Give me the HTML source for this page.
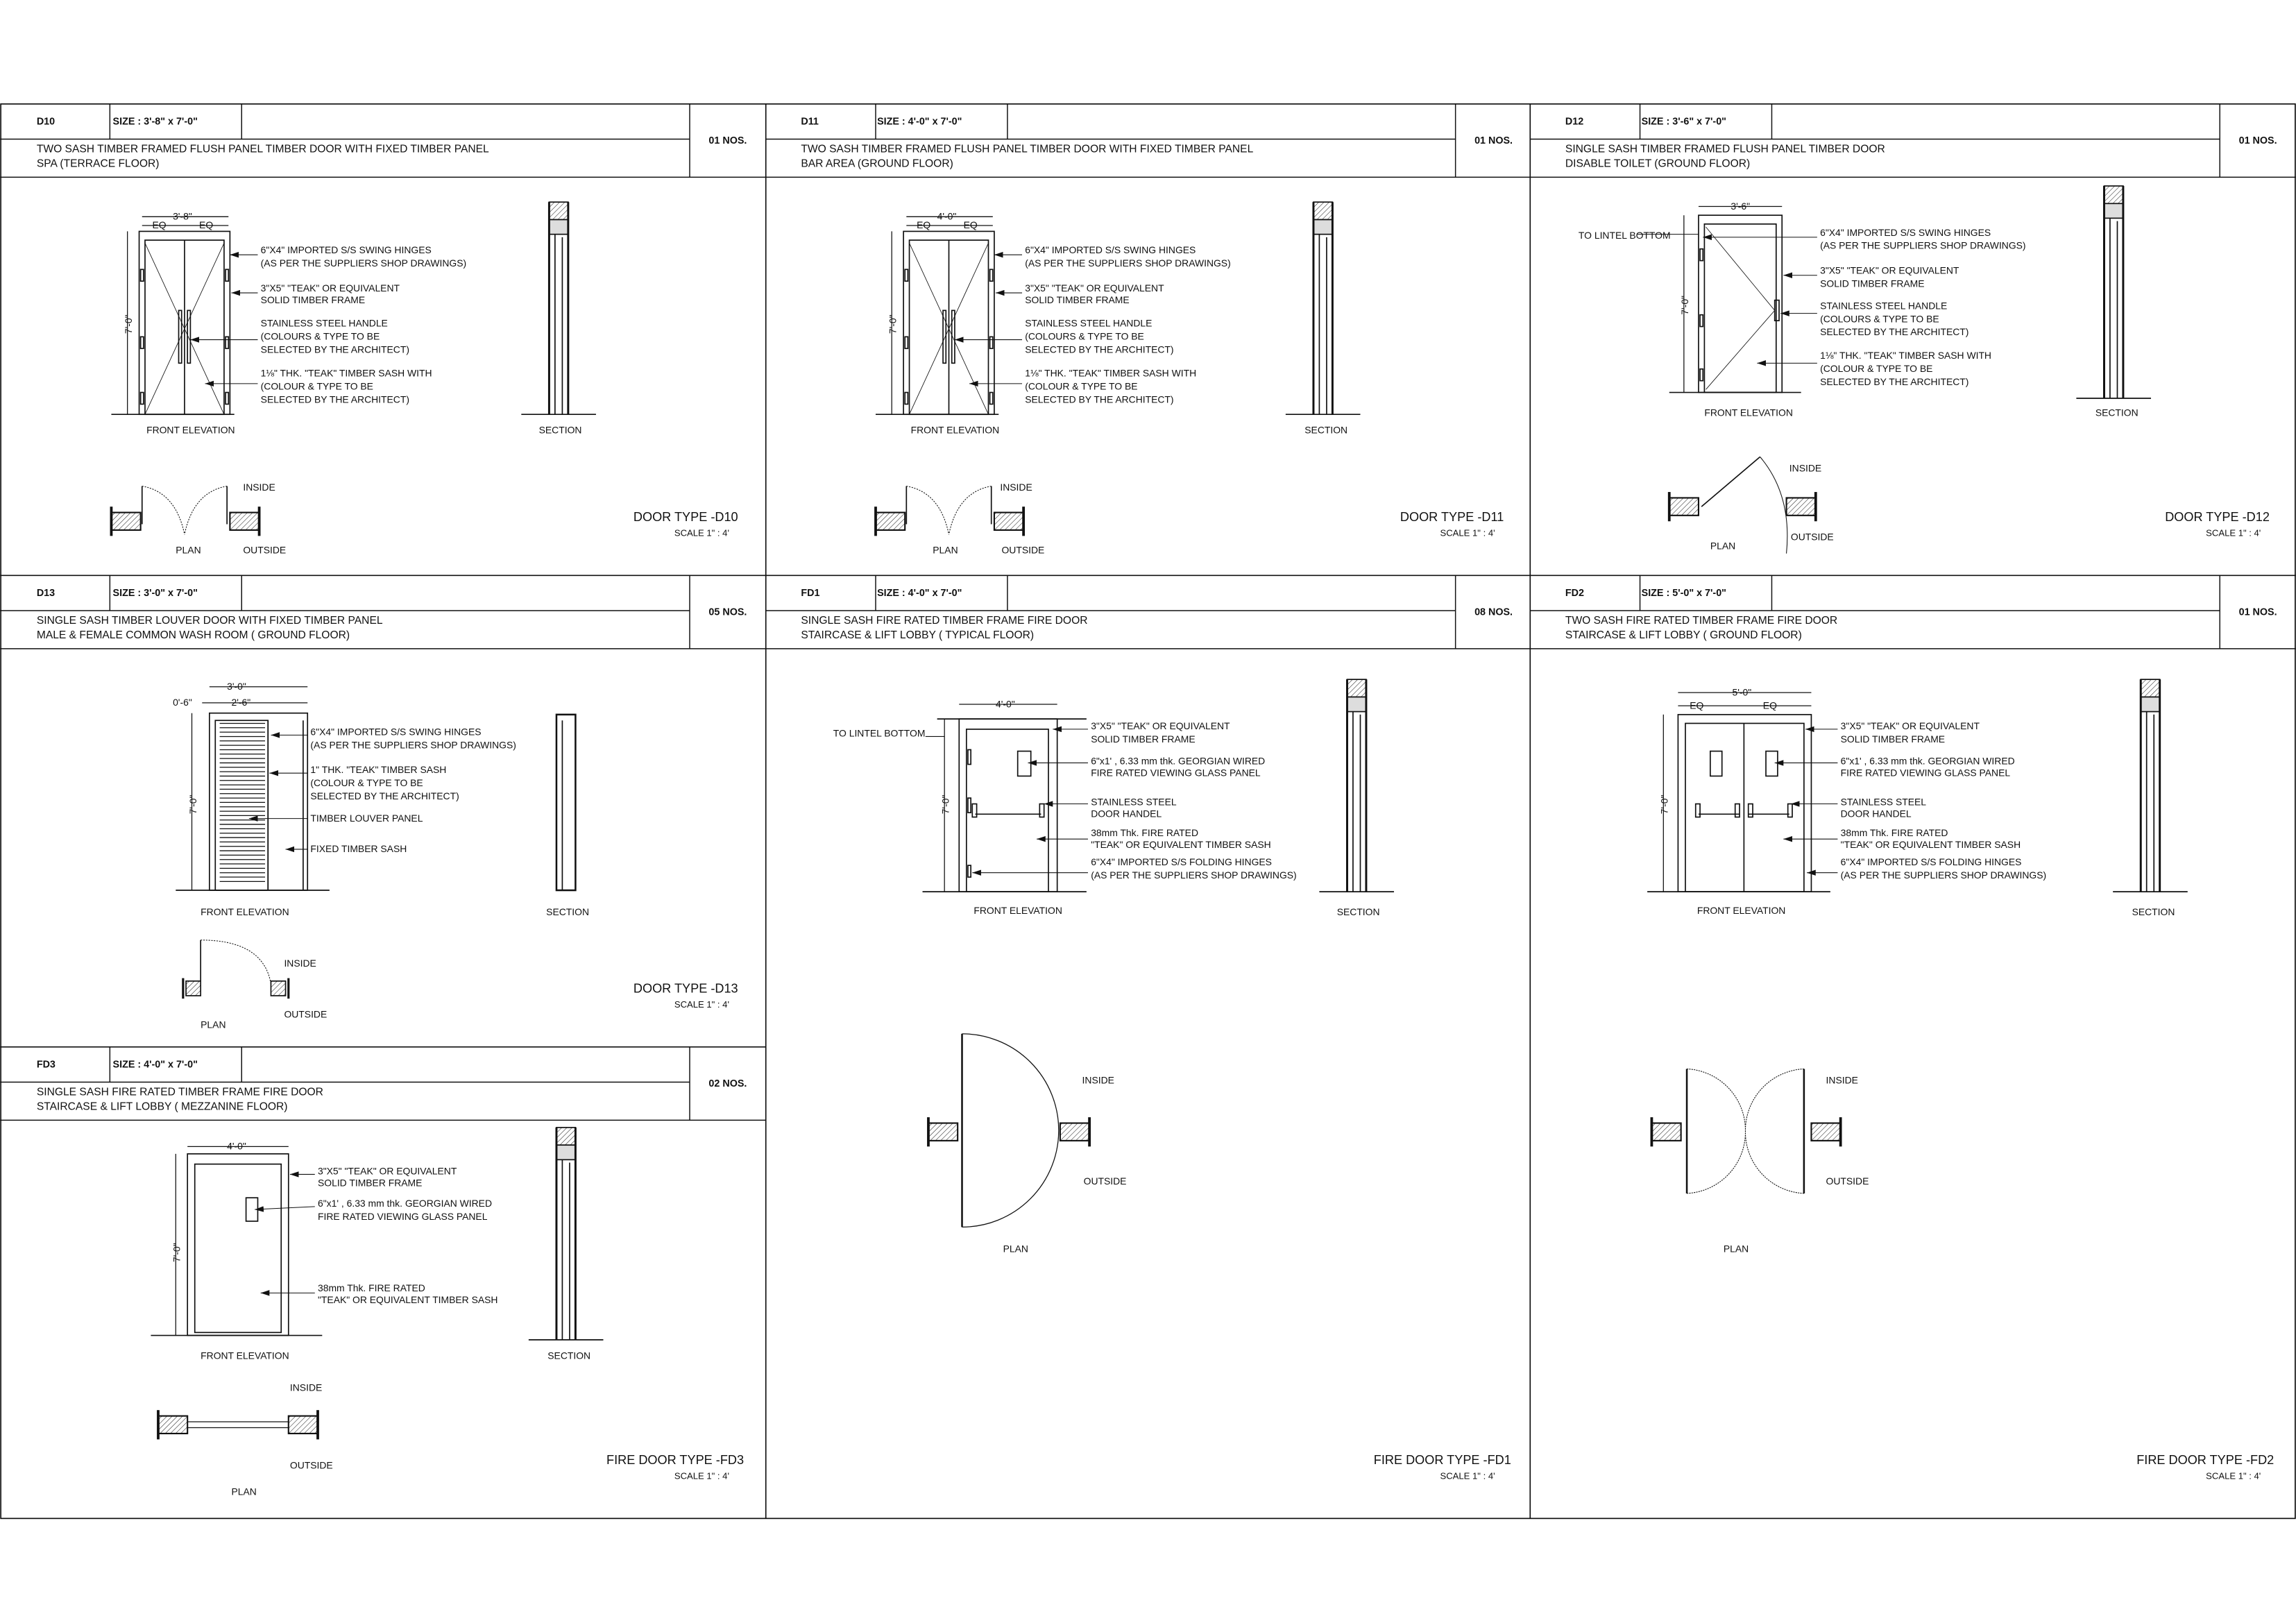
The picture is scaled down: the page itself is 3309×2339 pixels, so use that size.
<!DOCTYPE html>
<html><head><meta charset="utf-8"><style>
html,body{margin:0;padding:0;background:#fff;}
svg{display:block;}
text{font-family:"Liberation Sans",sans-serif;fill:#111;}
.h{font-size:6.8px;font-weight:bold;}
.d{font-size:7.4px;}
.l{font-size:6.6px;}
.t{font-size:8.6px;}
.s{font-size:6.2px;}
</style></head><body>
<svg width="3309" height="2339" viewBox="0 0 1568 1108.4" xmlns="http://www.w3.org/2000/svg">
<defs>
<pattern id="hp" width="2.5" height="2.5" patternUnits="userSpaceOnUse" patternTransform="rotate(45)">
<line x1="0" y1="0" x2="0" y2="2.5" stroke="#222" stroke-width="0.5"/></pattern>
<marker id="ar" markerWidth="6" markerHeight="4" refX="6" refY="2" orient="auto" markerUnits="userSpaceOnUse">
<path d="M0,0 L6,2 L0,4 z" fill="#111"/></marker>
<g id="wallL"><rect x="0" y="-6" width="20" height="12" fill="url(#hp)" stroke="#111" stroke-width="1"/><line x1="0" y1="-10" x2="0" y2="10" stroke="#111" stroke-width="1.8"/></g>
<g id="wallR"><rect x="-20" y="-6" width="20" height="12" fill="url(#hp)" stroke="#111" stroke-width="1"/><line x1="0" y1="-10" x2="0" y2="10" stroke="#111" stroke-width="1.8"/></g>
<g id="sect" fill="none" stroke="#111" stroke-width="0.8">
<rect x="0" y="0" width="13" height="12" fill="url(#hp)"/>
<rect x="0" y="12" width="13" height="10" fill="#ddd"/>
<line x1="0" y1="0" x2="0" y2="145" stroke-width="1.4"/><line x1="13" y1="0" x2="13" y2="145" stroke-width="1.4"/>
<line x1="4" y1="22" x2="4" y2="145"/><line x1="9" y1="24" x2="9" y2="145"/>
<line x1="-19" y1="145" x2="32" y2="145"/>
</g>
<g id="dbl" fill="none" stroke="#111" stroke-width="0.8">
<line x1="97" y1="148" x2="156" y2="148" stroke-width="0.6"/><line x1="97" y1="154" x2="156" y2="154" stroke-width="0.6"/>
<rect x="95" y="158" width="62" height="125"/>
<rect x="99" y="164" width="54" height="119"/>
<line x1="126" y1="164" x2="126" y2="283"/>
<line x1="99" y1="166" x2="153" y2="283" stroke-width="0.4"/><line x1="153" y1="166" x2="99" y2="283" stroke-width="0.4"/>
<line x1="76" y1="283" x2="160" y2="283"/>
<line x1="87" y1="158" x2="87" y2="283" stroke-width="0.6"/>
<rect x="96" y="184" width="2" height="8"/><rect x="96" y="230" width="2" height="8"/><rect x="96" y="268" width="2" height="8"/>
<rect x="154" y="184" width="2" height="8"/><rect x="154" y="230" width="2" height="8"/><rect x="154" y="268" width="2" height="8"/>
<rect x="122" y="212" width="2" height="36"/><rect x="128" y="212" width="2" height="36"/>
<line x1="176" y1="174" x2="157" y2="174" marker-end="url(#ar)" stroke-width="0.5"/>
<line x1="176" y1="200" x2="158" y2="200" marker-end="url(#ar)" stroke-width="0.5"/>
<line x1="176" y1="232" x2="130" y2="232" marker-end="url(#ar)" stroke-width="0.5"/>
<line x1="176" y1="262" x2="140" y2="262" marker-end="url(#ar)" stroke-width="0.5"/>
<line x1="97" y1="332" x2="97" y2="358"/><path d="M97,332 Q120,336 126,365" stroke-dasharray="1,0.8" stroke-width="0.5"/>
<line x1="155" y1="332" x2="155" y2="358"/><path d="M155,332 Q132,336 126,365" stroke-dasharray="1,0.8" stroke-width="0.5"/>
</g>
</defs>
<rect width="1568" height="1108.4" fill="#fff"/>
<g fill="none" stroke="#111" stroke-width="0.8">
<rect x="0.5" y="71" width="1567" height="966"/>
<line x1="523" y1="71" x2="523" y2="1037"/><line x1="1045" y1="71" x2="1045" y2="1037"/>
<line x1="0" y1="393" x2="1568" y2="393"/><line x1="0" y1="715" x2="523" y2="715"/>
</g>
<g fill="none" stroke="#111" stroke-width="0.7">
<path d="M0,95 H471 M0,121 H523 M75,71 V95 M165,71 V95 M471,71 V121"/>
<path d="M523,95 H994 M523,121 H1045 M598,71 V95 M688,71 V95 M994,71 V121"/>
<path d="M1045,95 H1516 M1045,121 H1568 M1120,71 V95 M1210,71 V95 M1516,71 V121"/>
<path d="M0,417 H471 M0,443 H523 M75,393 V417 M165,393 V417 M471,393 V443"/>
<path d="M523,417 H994 M523,443 H1045 M598,393 V417 M688,393 V417 M994,393 V443"/>
<path d="M1045,417 H1516 M1045,443 H1568 M1120,393 V417 M1210,393 V417 M1516,393 V443"/>
<path d="M0,739 H471 M0,765 H523 M75,715 V739 M165,715 V739 M471,715 V765"/>
</g>
<g class="h">
<text x="25" y="85">D10</text><text x="77" y="85">SIZE :  3'-8" x 7'-0"</text><text x="484" y="98">01 NOS.</text>
<text x="547" y="85">D11</text><text x="599" y="85">SIZE :  4'-0" x 7'-0"</text><text x="1007" y="98">01 NOS.</text>
<text x="1069" y="85">D12</text><text x="1121" y="85">SIZE :  3'-6" x 7'-0"</text><text x="1529" y="98">01 NOS.</text>
<text x="25" y="407">D13</text><text x="77" y="407">SIZE :  3'-0" x 7'-0"</text><text x="484" y="420">05 NOS.</text>
<text x="547" y="407">FD1</text><text x="599" y="407">SIZE :  4'-0" x 7'-0"</text><text x="1007" y="420">08 NOS.</text>
<text x="1069" y="407">FD2</text><text x="1121" y="407">SIZE :  5'-0" x 7'-0"</text><text x="1529" y="420">01 NOS.</text>
<text x="25" y="729">FD3</text><text x="77" y="729">SIZE :  4'-0" x 7'-0"</text><text x="484" y="742">02 NOS.</text>
</g>
<g class="d">
<text x="25" y="104">TWO SASH TIMBER FRAMED FLUSH PANEL TIMBER DOOR WITH FIXED TIMBER PANEL</text><text x="25" y="114">SPA (TERRACE FLOOR)</text>
<text x="547" y="104">TWO SASH TIMBER FRAMED FLUSH PANEL TIMBER DOOR WITH FIXED TIMBER PANEL</text><text x="547" y="114">BAR AREA (GROUND FLOOR)</text>
<text x="1069" y="104">SINGLE SASH TIMBER FRAMED FLUSH PANEL TIMBER DOOR</text><text x="1069" y="114">DISABLE TOILET (GROUND FLOOR)</text>
<text x="25" y="426">SINGLE SASH TIMBER LOUVER DOOR WITH FIXED TIMBER PANEL</text><text x="25" y="436">MALE &amp; FEMALE COMMON WASH ROOM ( GROUND FLOOR)</text>
<text x="547" y="426">SINGLE SASH FIRE RATED TIMBER FRAME FIRE DOOR</text><text x="547" y="436">STAIRCASE &amp; LIFT LOBBY ( TYPICAL FLOOR)</text>
<text x="1069" y="426">TWO SASH FIRE RATED TIMBER FRAME FIRE DOOR</text><text x="1069" y="436">STAIRCASE &amp; LIFT LOBBY ( GROUND FLOOR)</text>
<text x="25" y="748">SINGLE SASH FIRE RATED TIMBER FRAME FIRE DOOR</text><text x="25" y="758">STAIRCASE &amp; LIFT LOBBY ( MEZZANINE FLOOR)</text>
</g>

<use href="#dbl"/><use href="#dbl" x="522"/>
<use href="#sect" x="375" y="138"/><use href="#sect" x="897" y="138"/>
<use href="#wallL" x="76" y="356"/><use href="#wallR" x="177" y="356"/>
<use href="#wallL" x="598" y="356"/><use href="#wallR" x="699" y="356"/>
<g class="l">
<text x="118" y="150">3'-8"</text><text x="104" y="156">EQ</text><text x="136" y="156">EQ</text>
<text x="640" y="150">4'-0"</text><text x="626" y="156">EQ</text><text x="658" y="156">EQ</text>
<text transform="translate(90,228) rotate(-90)">7'-0"</text><text transform="translate(612,228) rotate(-90)">7'-0"</text>
<text x="178" y="173">6"X4" IMPORTED S/S SWING HINGES</text><text x="178" y="182">(AS PER THE SUPPLIERS SHOP DRAWINGS)</text>
<text x="178" y="199">3"X5" "TEAK" OR EQUIVALENT</text><text x="178" y="207">SOLID TIMBER FRAME</text>
<text x="178" y="223">STAINLESS STEEL HANDLE</text><text x="178" y="232">(COLOURS  &amp; TYPE TO BE</text><text x="178" y="241">SELECTED BY THE ARCHITECT)</text>
<text x="178" y="257">1⅛" THK. "TEAK" TIMBER SASH WITH</text><text x="178" y="266">(COLOUR  &amp; TYPE TO BE</text><text x="178" y="275">SELECTED BY THE ARCHITECT)</text>
<text x="700" y="173">6"X4" IMPORTED S/S SWING HINGES</text><text x="700" y="182">(AS PER THE SUPPLIERS SHOP DRAWINGS)</text>
<text x="700" y="199">3"X5" "TEAK" OR EQUIVALENT</text><text x="700" y="207">SOLID TIMBER FRAME</text>
<text x="700" y="223">STAINLESS STEEL HANDLE</text><text x="700" y="232">(COLOURS  &amp; TYPE TO BE</text><text x="700" y="241">SELECTED BY THE ARCHITECT)</text>
<text x="700" y="257">1⅛" THK. "TEAK" TIMBER SASH WITH</text><text x="700" y="266">(COLOUR  &amp; TYPE TO BE</text><text x="700" y="275">SELECTED BY THE ARCHITECT)</text>
<text x="100" y="296">FRONT ELEVATION</text><text x="368" y="296">SECTION</text>
<text x="622" y="296">FRONT ELEVATION</text><text x="891" y="296">SECTION</text>
<text x="166" y="335">INSIDE</text><text x="120" y="378">PLAN</text><text x="166" y="378">OUTSIDE</text>
<text x="683" y="335">INSIDE</text><text x="637" y="378">PLAN</text><text x="684" y="378">OUTSIDE</text>
</g>
<g class="t" text-anchor="end">
<text x="504" y="356">DOOR  TYPE -D10</text><text x="1027" y="356">DOOR  TYPE -D11</text><text x="1550" y="356">DOOR  TYPE -D12</text>
<text x="504" y="678">DOOR  TYPE -D13</text>
<text x="508" y="1000">FIRE DOOR  TYPE -FD3</text><text x="1032" y="1000">FIRE DOOR  TYPE -FD1</text><text x="1553" y="1000">FIRE DOOR  TYPE -FD2</text>
</g>
<g class="s" text-anchor="end">
<text x="498" y="366">SCALE 1" : 4'</text><text x="1021" y="366">SCALE 1" : 4'</text><text x="1544" y="366">SCALE 1" : 4'</text>
<text x="498" y="688">SCALE 1" : 4'</text>
<text x="498" y="1010">SCALE 1" : 4'</text><text x="1021" y="1010">SCALE 1" : 4'</text><text x="1544" y="1010">SCALE 1" : 4'</text>
</g>

<!-- D12 -->
<g fill="none" stroke="#111" stroke-width="0.8">
<line x1="1160" y1="141" x2="1217" y2="141" stroke-width="0.6"/>
<rect x="1160" y="147" width="57" height="121"/><rect x="1164" y="153" width="49" height="115"/>
<polyline points="1165,155 1212,212 1165,266" stroke-width="0.4"/>
<line x1="1140" y1="268" x2="1230" y2="268"/><line x1="1150" y1="147" x2="1150" y2="268" stroke-width="0.6"/>
<line x1="1118" y1="160" x2="1160" y2="160" stroke-width="0.5"/>
<rect x="1161" y="170" width="2" height="8"/><rect x="1161" y="215" width="2" height="8"/><rect x="1161" y="252" width="2" height="8"/>
<rect x="1212" y="205" width="3" height="14"/>
<line x1="1241" y1="162" x2="1163" y2="162" marker-end="url(#ar)" stroke-width="0.5"/>
<line x1="1241" y1="188" x2="1218" y2="188" marker-end="url(#ar)" stroke-width="0.5"/>
<line x1="1241" y1="214" x2="1216" y2="214" marker-end="url(#ar)" stroke-width="0.5"/>
<line x1="1241" y1="248" x2="1200" y2="248" marker-end="url(#ar)" stroke-width="0.5"/>
<line x1="1162" y1="346" x2="1202" y2="312"/><path d="M1202,312 Q1224,338 1220,378" stroke-width="0.5"/>
</g>
<use href="#sect" x="1437" y="127"/>
<use href="#wallL" x="1140" y="346"/><use href="#wallR" x="1240" y="346"/>
<g class="l">
<text x="1182" y="143">3'-6"</text><text transform="translate(1153,215) rotate(-90)">7'-0"</text>
<text x="1078" y="163">TO LINTEL BOTTOM</text>
<text x="1243" y="161">6"X4" IMPORTED S/S SWING HINGES</text><text x="1243" y="170">(AS PER THE SUPPLIERS SHOP DRAWINGS)</text>
<text x="1243" y="187">3"X5" "TEAK" OR EQUIVALENT</text><text x="1243" y="196">SOLID TIMBER FRAME</text>
<text x="1243" y="211">STAINLESS STEEL HANDLE</text><text x="1243" y="220">(COLOURS  &amp; TYPE TO BE</text><text x="1243" y="229">SELECTED BY THE ARCHITECT)</text>
<text x="1243" y="245">1⅛" THK. "TEAK" TIMBER SASH WITH</text><text x="1243" y="254">(COLOUR  &amp; TYPE TO BE</text><text x="1243" y="263">SELECTED BY THE ARCHITECT)</text>
<text x="1164" y="284">FRONT ELEVATION</text><text x="1431" y="284">SECTION</text>
<text x="1222" y="322">INSIDE</text><text x="1168" y="375">PLAN</text><text x="1223" y="369">OUTSIDE</text>
</g>

<!-- D13 -->
<g fill="none" stroke="#111" stroke-width="0.8">
<line x1="143" y1="469" x2="210" y2="469" stroke-width="0.6"/><line x1="138" y1="480" x2="210" y2="480" stroke-width="0.6"/>
<rect x="143" y="487" width="67" height="121"/><rect x="147" y="492" width="36" height="116"/>
<line x1="183" y1="492" x2="183" y2="608"/><line x1="207" y1="492" x2="207" y2="608"/>
<line x1="120" y1="608" x2="225" y2="608"/><line x1="131" y1="487" x2="131" y2="608" stroke-width="0.6"/>
<path d="M150,494 H181 M150,497 H181 M150,500 H181 M150,503 H181 M150,506 H181 M150,509 H181 M150,512 H181 M150,515 H181 M150,518 H181 M150,521 H181 M150,524 H181 M150,527 H181 M150,530 H181 M150,533 H181 M150,536 H181 M150,539 H181 M150,542 H181 M150,545 H181 M150,548 H181 M150,551 H181 M150,554 H181 M150,557 H181 M150,560 H181 M150,563 H181 M150,566 H181 M150,569 H181 M150,572 H181 M150,575 H181 M150,578 H181 M150,581 H181 M150,584 H181 M150,587 H181 M150,590 H181 M150,593 H181 M150,596 H181 M150,599 H181 M150,602 H181" stroke-width="0.6"/>
<line x1="210" y1="502" x2="185" y2="502" marker-end="url(#ar)" stroke-width="0.5"/>
<line x1="210" y1="528" x2="184" y2="528" marker-end="url(#ar)" stroke-width="0.5"/>
<line x1="210" y1="559" x2="170" y2="559" marker-end="url(#ar)" stroke-width="0.5"/>
<line x1="210" y1="580" x2="195" y2="580" marker-end="url(#ar)" stroke-width="0.5"/>
<line x1="137" y1="642" x2="137" y2="670"/><path d="M137,642 Q180,642 185,672" stroke-dasharray="1,0.8" stroke-width="0.5"/>
<rect x="380" y="488" width="13" height="120" stroke-width="1.2"/><line x1="384" y1="492" x2="384" y2="608"/>
<rect x="127" y="670" width="10" height="10" fill="url(#hp)"/><rect x="185" y="670" width="10" height="10" fill="url(#hp)"/>
<line x1="125" y1="668" x2="125" y2="682" stroke-width="1.5"/><line x1="197" y1="668" x2="197" y2="682" stroke-width="1.5"/>
</g>
<g class="l">
<text x="155" y="471">3'-0"</text><text x="118" y="482">0'-6"</text><text x="158" y="482">2'-6"</text>
<text transform="translate(134,556) rotate(-90)">7'-0"</text>
<text x="212" y="502">6"X4" IMPORTED S/S SWING HINGES</text><text x="212" y="511">(AS PER THE SUPPLIERS SHOP DRAWINGS)</text>
<text x="212" y="528">1" THK. "TEAK" TIMBER SASH</text><text x="212" y="537">(COLOUR  &amp; TYPE TO BE</text><text x="212" y="546">SELECTED BY THE ARCHITECT)</text>
<text x="212" y="561">TIMBER LOUVER PANEL</text><text x="212" y="582">FIXED TIMBER SASH</text>
<text x="137" y="625">FRONT ELEVATION</text><text x="373" y="625">SECTION</text>
<text x="194" y="660">INSIDE</text><text x="137" y="702">PLAN</text><text x="194" y="695">OUTSIDE</text>
</g>

<!-- FD3 -->
<g fill="none" stroke="#111" stroke-width="0.8">
<line x1="128" y1="783" x2="197" y2="783" stroke-width="0.6"/>
<rect x="128" y="788" width="69" height="124"/><rect x="133" y="795" width="59" height="115"/>
<rect x="168" y="818" width="8" height="16"/>
<line x1="103" y1="912" x2="220" y2="912"/><line x1="120" y1="788" x2="120" y2="912" stroke-width="0.6"/>
<line x1="215" y1="802" x2="198" y2="802" marker-end="url(#ar)" stroke-width="0.5"/>
<line x1="215" y1="824" x2="174" y2="826" marker-end="url(#ar)" stroke-width="0.5"/>
<line x1="215" y1="883" x2="178" y2="883" marker-end="url(#ar)" stroke-width="0.5"/>
<line x1="128" y1="971" x2="197" y2="971" stroke-width="0.6"/><line x1="128" y1="975" x2="197" y2="975" stroke-width="0.6"/>
</g>
<use href="#sect" x="380" y="770"/>
<use href="#wallL" x="108" y="973"/><use href="#wallR" x="217" y="973"/>
<g class="l">
<text x="155" y="785">4'-0"</text><text transform="translate(123,862) rotate(-90)">7'-0"</text>
<text x="217" y="802">3"X5" "TEAK" OR EQUIVALENT</text><text x="217" y="810">SOLID TIMBER FRAME</text>
<text x="217" y="824">6"x1' , 6.33 mm thk. GEORGIAN WIRED</text><text x="217" y="833">FIRE RATED VIEWING GLASS PANEL</text>
<text x="217" y="882">38mm Thk. FIRE RATED</text><text x="217" y="890">"TEAK" OR EQUIVALENT TIMBER SASH</text>
<text x="137" y="928">FRONT ELEVATION</text><text x="374" y="928">SECTION</text>
<text x="198" y="950">INSIDE</text><text x="198" y="1003">OUTSIDE</text><text x="158" y="1021">PLAN</text>
</g>

<!-- FD1 -->
<g fill="none" stroke="#111" stroke-width="0.8">
<line x1="655" y1="481" x2="722" y2="481" stroke-width="0.6"/>
<line x1="640" y1="491" x2="742" y2="491"/>
<rect x="655" y="491" width="67" height="118"/><rect x="660" y="498" width="56" height="111"/>
<rect x="695" y="513" width="9" height="17"/>
<line x1="630" y1="609" x2="742" y2="609"/><line x1="645" y1="491" x2="645" y2="609" stroke-width="0.6"/>
<line x1="632" y1="503" x2="645" y2="503" stroke-width="0.5"/>
<rect x="661" y="512" width="2" height="10"/><rect x="661" y="545" width="2" height="10"/><rect x="661" y="591" width="2" height="8"/>
<line x1="666" y1="556" x2="711" y2="556"/><rect x="664" y="549" width="3" height="9"/><rect x="710" y="549" width="3" height="9"/>
<line x1="743" y1="498" x2="719" y2="498" marker-end="url(#ar)" stroke-width="0.5"/>
<line x1="743" y1="521" x2="702" y2="521" marker-end="url(#ar)" stroke-width="0.5"/>
<line x1="743" y1="549" x2="713" y2="549" marker-end="url(#ar)" stroke-width="0.5"/>
<line x1="743" y1="573" x2="708" y2="573" marker-end="url(#ar)" stroke-width="0.5"/>
<line x1="743" y1="596" x2="664" y2="596" marker-end="url(#ar)" stroke-width="0.5"/>
<line x1="657" y1="706" x2="657" y2="838" stroke-width="1.2"/>
<path d="M657,706 A66,66 0 0 1 657,838" stroke-width="0.6"/>
</g>
<use href="#sect" x="920" y="464"/>
<use href="#wallL" x="634" y="773"/><use href="#wallR" x="744" y="773"/>
<g class="l">
<text x="680" y="483">4'-0"</text><text transform="translate(648,556) rotate(-90)">7'-0"</text>
<text x="569" y="503">TO LINTEL BOTTOM</text>
<text x="745" y="498">3"X5" "TEAK" OR EQUIVALENT</text><text x="745" y="507">SOLID TIMBER FRAME</text>
<text x="745" y="522">6"x1' , 6.33 mm thk. GEORGIAN WIRED</text><text x="745" y="530">FIRE RATED VIEWING GLASS PANEL</text>
<text x="745" y="550">STAINLESS STEEL</text><text x="745" y="558">DOOR HANDEL</text>
<text x="745" y="571">38mm Thk. FIRE RATED</text><text x="745" y="579">"TEAK" OR EQUIVALENT TIMBER SASH</text>
<text x="745" y="591">6"X4" IMPORTED S/S FOLDING HINGES</text><text x="745" y="600">(AS PER THE SUPPLIERS SHOP DRAWINGS)</text>
<text x="665" y="624">FRONT ELEVATION</text><text x="913" y="625">SECTION</text>
<text x="739" y="740">INSIDE</text><text x="740" y="809">OUTSIDE</text><text x="685" y="855">PLAN</text>
</g>

<!-- FD2 -->
<g fill="none" stroke="#111" stroke-width="0.8">
<line x1="1146" y1="473" x2="1237" y2="473" stroke-width="0.6"/><line x1="1146" y1="482" x2="1237" y2="482" stroke-width="0.6"/>
<rect x="1146" y="488" width="91" height="121"/><rect x="1151" y="494" width="81" height="115"/>
<line x1="1191" y1="494" x2="1191" y2="609"/>
<rect x="1168" y="513" width="8" height="17"/><rect x="1206" y="513" width="8" height="17"/>
<line x1="1160" y1="556" x2="1188" y2="556"/><line x1="1194" y1="556" x2="1222" y2="556"/>
<rect x="1158" y="549" width="3" height="9"/><rect x="1185" y="549" width="3" height="9"/>
<rect x="1194" y="549" width="3" height="9"/><rect x="1221" y="549" width="3" height="9"/>
<line x1="1125" y1="609" x2="1250" y2="609"/><line x1="1136" y1="488" x2="1136" y2="609" stroke-width="0.6"/>
<line x1="1255" y1="498" x2="1233" y2="498" marker-end="url(#ar)" stroke-width="0.5"/>
<line x1="1255" y1="521" x2="1212" y2="521" marker-end="url(#ar)" stroke-width="0.5"/>
<line x1="1255" y1="549" x2="1223" y2="549" marker-end="url(#ar)" stroke-width="0.5"/>
<line x1="1255" y1="573" x2="1218" y2="573" marker-end="url(#ar)" stroke-width="0.5"/>
<line x1="1255" y1="596" x2="1234" y2="596" marker-end="url(#ar)" stroke-width="0.5"/>
<line x1="1152" y1="730" x2="1152" y2="815" stroke-width="1.2"/><line x1="1232" y1="730" x2="1232" y2="815" stroke-width="1.2"/>
<path d="M1152,730 A42,42 0 0 1 1192,772 A42,42 0 0 1 1152,815" stroke-width="0.5" stroke-dasharray="1,0.6"/>
<path d="M1232,730 A42,42 0 0 0 1192,772 A42,42 0 0 0 1232,815" stroke-width="0.5" stroke-dasharray="1,0.6"/>
</g>
<use href="#sect" x="1462" y="464"/>
<use href="#wallL" x="1128" y="773"/><use href="#wallR" x="1257" y="773"/>
<g class="l">
<text x="1183" y="475">5'-0"</text><text x="1154" y="484">EQ</text><text x="1204" y="484">EQ</text>
<text transform="translate(1139,556) rotate(-90)">7'-0"</text>
<text x="1257" y="498">3"X5" "TEAK" OR EQUIVALENT</text><text x="1257" y="507">SOLID TIMBER FRAME</text>
<text x="1257" y="522">6"x1' , 6.33 mm thk. GEORGIAN WIRED</text><text x="1257" y="530">FIRE RATED VIEWING GLASS PANEL</text>
<text x="1257" y="550">STAINLESS STEEL</text><text x="1257" y="558">DOOR HANDEL</text>
<text x="1257" y="571">38mm Thk. FIRE RATED</text><text x="1257" y="579">"TEAK" OR EQUIVALENT TIMBER SASH</text>
<text x="1257" y="591">6"X4" IMPORTED S/S FOLDING HINGES</text><text x="1257" y="600">(AS PER THE SUPPLIERS SHOP DRAWINGS)</text>
<text x="1159" y="624">FRONT ELEVATION</text><text x="1456" y="625">SECTION</text>
<text x="1247" y="740">INSIDE</text><text x="1247" y="809">OUTSIDE</text><text x="1177" y="855">PLAN</text>
</g>
</svg>
</body></html>
